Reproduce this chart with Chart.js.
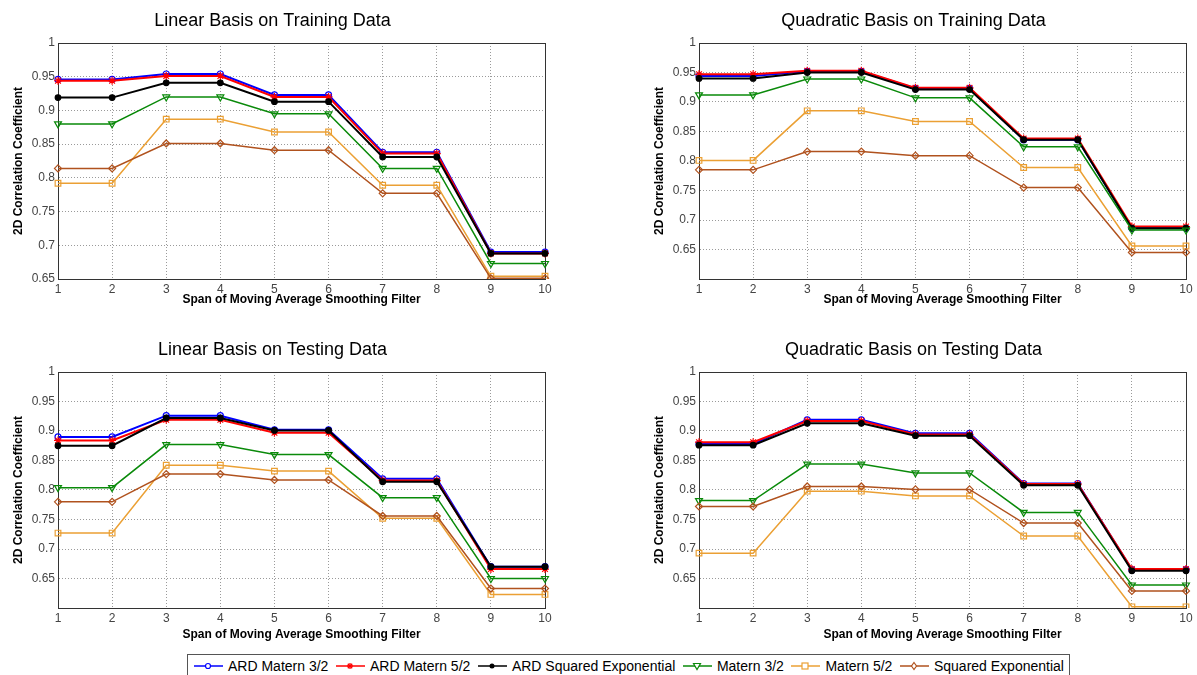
<!DOCTYPE html>
<html><head><meta charset="utf-8">
<script src="https://cdn.jsdelivr.net/npm/chart.js@4/dist/chart.umd.min.js"></script>
<style>
body{margin:0;background:#fff;width:1197px;height:675px;position:relative;overflow:hidden;font-family:Arial,"Liberation Sans",sans-serif}
canvas{position:absolute}
#legend{position:absolute;left:187px;top:654px;width:883px;height:23px;border:1px solid #555;box-sizing:border-box;display:flex;align-items:center;justify-content:space-between;padding:0 5px 0 5px;font-size:14px;color:#000;white-space:nowrap}
.item{display:flex;align-items:center}
.item svg{margin-right:4px}
</style></head><body>
<canvas id="c1" width="560" height="320" style="left:0;top:0"></canvas>
<canvas id="c2" width="556" height="320" style="left:641px;top:0"></canvas>
<canvas id="c3" width="560" height="320" style="left:0;top:329px"></canvas>
<canvas id="c4" width="556" height="320" style="left:641px;top:329px"></canvas>
<div id="legend"></div>
<script>
// ---- data ----
const spans = ['1','2','3','4','5','6','7','8','9','10'];
const seriesNames = ['ARD Matern 3/2','ARD Matern 5/2','ARD Squared Exponential','Matern 3/2','Matern 5/2','Squared Exponential'];
const yTickValues = [0.65,0.7,0.75,0.8,0.85,0.9,0.95,1];
const yTickLabels = ['0.65','0.7','0.75','0.8','0.85','0.9','0.95','1'];
const panelTitles = ['Linear Basis on Training Data','Quadratic Basis on Training Data','Linear Basis on Testing Data','Quadratic Basis on Testing Data'];

// Linear basis, training
const linTrainArdM32 = [0.946,0.946,0.954,0.954,0.923,0.923,0.838,0.838,0.690,0.690];
const linTrainArdM52 = [0.944,0.944,0.951,0.951,0.920,0.920,0.836,0.836,0.688,0.688];
const linTrainArdSE  = [0.919,0.919,0.941,0.941,0.913,0.913,0.831,0.831,0.688,0.688];
const linTrainM32    = [0.880,0.880,0.920,0.920,0.895,0.895,0.814,0.814,0.673,0.673];
const linTrainM52    = [0.792,0.792,0.887,0.887,0.868,0.868,0.789,0.789,0.654,0.654];
const linTrainSE     = [0.814,0.814,0.851,0.851,0.841,0.841,0.777,0.777,0.651,0.651];
// Quadratic basis, training
const quadTrainArdM32 = [0.944,0.944,0.952,0.952,0.923,0.923,0.836,0.836,0.686,0.686];
const quadTrainArdM52 = [0.947,0.947,0.953,0.953,0.924,0.924,0.838,0.838,0.689,0.689];
const quadTrainArdSE  = [0.940,0.940,0.950,0.950,0.921,0.921,0.836,0.836,0.686,0.686];
const quadTrainM32    = [0.912,0.912,0.939,0.939,0.907,0.907,0.824,0.824,0.683,0.683];
const quadTrainM52    = [0.801,0.801,0.885,0.885,0.867,0.867,0.789,0.789,0.656,0.656];
const quadTrainSE     = [0.785,0.785,0.816,0.816,0.809,0.809,0.755,0.755,0.645,0.645];
// Linear basis, testing
const linTestArdM32 = [0.890,0.890,0.926,0.926,0.902,0.902,0.819,0.819,0.670,0.670];
const linTestArdM52 = [0.884,0.884,0.919,0.919,0.897,0.897,0.816,0.816,0.666,0.666];
const linTestArdSE  = [0.875,0.875,0.922,0.922,0.901,0.901,0.814,0.814,0.670,0.670];
const linTestM32    = [0.804,0.804,0.877,0.877,0.860,0.860,0.787,0.787,0.650,0.650];
const linTestM52    = [0.727,0.727,0.842,0.842,0.832,0.832,0.752,0.752,0.623,0.623];
const linTestSE     = [0.780,0.780,0.827,0.827,0.817,0.817,0.756,0.756,0.633,0.633];
// Quadratic basis, testing
const quadTestArdM32 = [0.878,0.878,0.919,0.919,0.896,0.896,0.811,0.811,0.665,0.665];
const quadTestArdM52 = [0.881,0.881,0.917,0.917,0.894,0.894,0.810,0.810,0.666,0.666];
const quadTestArdSE  = [0.876,0.876,0.913,0.913,0.892,0.892,0.808,0.808,0.663,0.663];
const quadTestM32    = [0.782,0.782,0.844,0.844,0.829,0.829,0.762,0.762,0.639,0.639];
const quadTestM52    = [0.693,0.693,0.798,0.798,0.790,0.790,0.722,0.722,0.602,0.602];
const quadTestSE     = [0.772,0.772,0.806,0.806,0.801,0.801,0.744,0.744,0.629,0.629];

// ---- styles ----
const colors = ['#0000ff','#ff0000','#000000','#0a8a0a','#eba034','#b0521e'];
const pStyles = ['circle','star','circle','triangle','rect','rectRot'];
const pRot = [0,0,0,180,0,0];
const pRadius = [3,4,2.8,4,4,3.5];
const pFill = ['rgba(0,0,0,0)','#ff0000','#000000','rgba(0,0,0,0)','rgba(0,0,0,0)','rgba(0,0,0,0)'];
const lWidth = [2,2,2,1.5,1.5,1.5];

const boxPlugin = {
  id:'box',
  beforeDatasetsDraw(chart){
    const a = chart.chartArea, ctx = chart.ctx;
    ctx.save(); ctx.strokeStyle='#333'; ctx.lineWidth=1;
    ctx.strokeRect(Math.round(a.left)+0.5, Math.round(a.top)+0.5, Math.round(a.right-a.left), Math.round(a.bottom-a.top));
    ctx.restore();
  }
};

function makeChart(id, title, series, yMin, xPadBottom, rightPad){
  new Chart(document.getElementById(id), {
    type:'line',
    data:{labels:spans, datasets: series.map((vals,i)=>({
      label:seriesNames[i], data:vals, borderColor:colors[i], backgroundColor:pFill[i],
      borderWidth:lWidth[i], pointStyle:pStyles[i], pointRotation:pRot[i], pointRadius:pRadius[i],
      pointBorderWidth:1.2, pointBorderColor:colors[i], pointBackgroundColor:pFill[i],
      tension:0, fill:false, order:5-i
    }))},
    options:{
      responsive:false, animation:false, devicePixelRatio:1,
      layout:{padding:{left:0,right:rightPad,top:0,bottom:0}},
      plugins:{legend:{display:false}, tooltip:{enabled:false},
        title:{display:true,text:title,color:'#000',font:{size:18,family:'Arial',weight:'normal'},padding:{top:10,bottom:11.4}}},
      scales:{
        x:{type:'category', offset:false,
          grid:{color:'#9a9a9a', drawTicks:false, lineWidth:1},
          border:{display:true,color:'#333',dash:[1,2]},
          ticks:{padding:3,color:'#444',font:{size:12,family:'Arial'},maxRotation:0,autoSkip:false},
          title:{display:true,text:'Span of Moving Average Smoothing Filter',color:'#000',font:{size:12,family:'Arial',weight:'bold'},padding:{top:0,bottom:xPadBottom}},
          afterFit(s){ s.height = 41; }
        },
        y:{min:yMin,max:1,
          afterBuildTicks(s){ s.ticks = yTickValues.map(v=>({value:v})); },
          grid:{color:'#9a9a9a', drawTicks:false, lineWidth:1},
          border:{display:true,color:'#333',dash:[1,2]},
          ticks:{padding:3,color:'#444',font:{size:12,family:'Arial'},callback:(v,i)=>yTickLabels[i]},
          title:{display:true,text:'2D Correlation Coefficient',color:'#000',font:{size:12,family:'Arial',weight:'bold'},padding:{top:11,bottom:0}},
          afterFit(s){ s.width = 58; }
        }
      }
    },
    plugins:[boxPlugin]
  });
}

makeChart('c1', panelTitles[0], [linTrainArdM32,linTrainArdM52,linTrainArdSE,linTrainM32,linTrainM52,linTrainSE], 0.65, 12.8, 15);
makeChart('c2', panelTitles[1], [quadTrainArdM32,quadTrainArdM52,quadTrainArdSE,quadTrainM32,quadTrainM52,quadTrainSE], 0.6, 12.8, 11);
makeChart('c3', panelTitles[2], [linTestArdM32,linTestArdM52,linTestArdSE,linTestM32,linTestM52,linTestSE], 0.6, 6.8, 15);
makeChart('c4', panelTitles[3], [quadTestArdM32,quadTestArdM52,quadTestArdSE,quadTestM32,quadTestM52,quadTestSE], 0.6, 6.8, 11);

// ---- legend ----
function markerSvg(i){
  const c = colors[i]; const cx=15, cy=8;
  let m='';
  if(i===0) m=`<circle cx="${cx}" cy="${cy}" r="2.5" fill="#fff" stroke="${c}" stroke-width="1.2"/>`;
  if(i===1) m=`<g stroke="${c}" stroke-width="1.3"><line x1="${cx-3}" y1="${cy}" x2="${cx+3}" y2="${cy}"/><line x1="${cx}" y1="${cy-3}" x2="${cx}" y2="${cy+3}"/><line x1="${cx-2.2}" y1="${cy-2.2}" x2="${cx+2.2}" y2="${cy+2.2}"/><line x1="${cx-2.2}" y1="${cy+2.2}" x2="${cx+2.2}" y2="${cy-2.2}"/></g>`;
  if(i===2) m=`<circle cx="${cx}" cy="${cy}" r="2.5" fill="${c}"/>`;
  if(i===3) m=`<polygon points="${cx-3.5},${cy-2.5} ${cx+3.5},${cy-2.5} ${cx},${cy+3.5}" fill="#fff" stroke="${c}" stroke-width="1.2"/>`;
  if(i===4) m=`<rect x="${cx-3}" y="${cy-3}" width="6" height="6" fill="#fff" stroke="${c}" stroke-width="1.2"/>`;
  if(i===5) m=`<polygon points="${cx},${cy-3.5} ${cx+2.5},${cy} ${cx},${cy+3.5} ${cx-2.5},${cy}" fill="#fff" stroke="${c}" stroke-width="1.2"/>`;
  return `<svg width="31" height="16"><line x1="1" y1="${cy}" x2="30" y2="${cy}" stroke="${c}" stroke-width="1.5"/>${m}</svg>`;
}
document.getElementById('legend').innerHTML = seriesNames.map((n,i)=>`<span class="item">${markerSvg(i)}<span>${n}</span></span>`).join('');
</script>
</body></html>
